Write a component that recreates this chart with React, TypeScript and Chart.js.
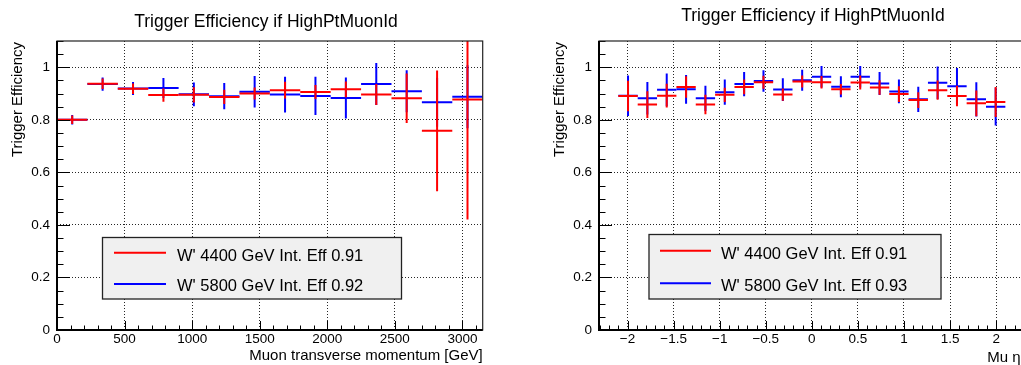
import React, { useEffect, useRef } from 'react';
import { Chart, registerables } from 'chart.js';

Chart.register(...registerables);

const FONT = '"Liberation Sans", Arial, Helvetica, sans-serif';
Chart.defaults.font.family = FONT;

// ---------------- shared text ----------------
const TITLE = 'Trigger Efficiency if HighPtMuonId';
const Y_TITLE = 'Trigger Efficiency';
const RED = '#ff0000';
const BLUE = '#0000ff';

// y axis (efficiency)
const EFF_MIN = 0;
const EFF_MAX = 1.1;
const EFF_TICKS = [0, 0.2, 0.4, 0.6, 0.8, 1];
const EFF_TICK_LABELS = ['0', '0.2', '0.4', '0.6', '0.8', '1'];

// ---------------- panel 1 : muon pT ----------------
const PT_BIN_CENTERS = [112.5, 337.5, 562.5, 787.5, 1012.5, 1237.5, 1462.5, 1687.5, 1912.5, 2137.5, 2362.5, 2587.5, 2812.5, 3037.5];
const PT_BIN_WIDTH = 225;
const PT_EFF_4400 = [0.8, 0.937, 0.918, 0.894, 0.895, 0.887, 0.9, 0.913, 0.906, 0.916, 0.896, 0.882, 0.758, 0.877];
const PT_ERR_4400 = [0.016, 0.02, 0.02, 0.025, 0.029, 0.027, 0.023, 0.032, 0.027, 0.03, 0.04, 0.094, 0.23, 0.456];
const PT_EFF_5800 = [0.8, 0.936, 0.919, 0.921, 0.897, 0.89, 0.907, 0.896, 0.891, 0.883, 0.936, 0.909, 0.867, 0.888];
const PT_ERR_5800 = [0.018, 0.025, 0.025, 0.038, 0.045, 0.05, 0.06, 0.068, 0.073, 0.078, 0.08, 0.08, 0.093, 0.12];
const PT_MIN = 0;
const PT_MAX = 3150;
const PT_TICKS = [0, 500, 1000, 1500, 2000, 2500, 3000];
const PT_TICK_LABELS = ['0', '500', '1000', '1500', '2000', '2500', '3000'];
const PT_X_TITLE = 'Muon transverse momentum [GeV]';
const PT_LEGEND = ["W' 4400 GeV Int. Eff 0.91", "W' 5800 GeV Int. Eff 0.92"];

// ---------------- panel 2 : muon eta ----------------
const ETA_BIN_CENTERS = [-1.995, -1.785, -1.575, -1.365, -1.155, -0.945, -0.735, -0.525, -0.315, -0.105, 0.105, 0.315, 0.525, 0.735, 0.945, 1.155, 1.365, 1.575, 1.785, 1.995];
const ETA_BIN_WIDTH = 0.21;
const ETA_EFF_4400 = [0.891, 0.858, 0.892, 0.925, 0.858, 0.895, 0.925, 0.943, 0.896, 0.946, 0.943, 0.916, 0.942, 0.923, 0.898, 0.875, 0.913, 0.891, 0.863, 0.868];
const ETA_ERR_4400 = [0.058, 0.051, 0.045, 0.041, 0.037, 0.027, 0.028, 0.025, 0.023, 0.023, 0.024, 0.02, 0.027, 0.028, 0.03, 0.03, 0.037, 0.039, 0.049, 0.057];
const ETA_EFF_5800 = [0.892, 0.882, 0.914, 0.916, 0.882, 0.905, 0.936, 0.948, 0.915, 0.951, 0.964, 0.926, 0.964, 0.938, 0.908, 0.878, 0.941, 0.928, 0.878, 0.85];
const ETA_ERR_5800 = [0.077, 0.062, 0.062, 0.055, 0.048, 0.048, 0.046, 0.041, 0.043, 0.04, 0.041, 0.04, 0.041, 0.044, 0.045, 0.048, 0.062, 0.069, 0.065, 0.072];
const ETA_MIN = -2.31;
const ETA_MAX = 2.31;
const ETA_TICKS = [-2, -1.5, -1, -0.5, 0, 0.5, 1, 1.5, 2];
const ETA_TICK_LABELS = ['\u22122', '\u22121.5', '\u22121', '\u22120.5', '0', '0.5', '1', '1.5', '2'];
const ETA_X_TITLE = 'Mu \u03b7';
const ETA_LEGEND = ["W' 4400 GeV Int. Eff 0.91", "W' 5800 GeV Int. Eff 0.93"];

// ---------------- layout ----------------
const CANVAS_W = 510;
const CANVAS_H = 365;

type Panel = {
  left: number;
  centers: number[];
  binWidth: number;
  red: number[];
  redErr: number[];
  blue: number[];
  blueErr: number[];
  xMin: number;
  xMax: number;
  xTicks: number[];
  xTickLabels: string[];
  xMajor: number;
  xMinor: number;
  xTitle: string;
  xTitleRight: number | null;
  xTitleY: number;
  legend: string[];
  titleX: number;
  titleY: number;
  legendBox: [number, number, number, number];
  legendLineX: [number, number];
  legendLineY: [number, number];
  legendTextX: number;
  legendTextY: [number, number];
};

const PANELS: Panel[] = [
  {
    left: 0,
    centers: PT_BIN_CENTERS,
    binWidth: PT_BIN_WIDTH,
    red: PT_EFF_4400,
    redErr: PT_ERR_4400,
    blue: PT_EFF_5800,
    blueErr: PT_ERR_5800,
    xMin: PT_MIN,
    xMax: PT_MAX,
    xTicks: PT_TICKS,
    xTickLabels: PT_TICK_LABELS,
    xMajor: 500,
    xMinor: 100,
    xTitle: PT_X_TITLE,
    xTitleRight: null,
    xTitleY: 360,
    legend: PT_LEGEND,
    titleX: 266,
    titleY: 27,
    legendBox: [102.5, 237.5, 299, 61.5],
    legendLineX: [114, 166],
    legendLineY: [252.7, 284],
    legendTextX: 177,
    legendTextY: [260.5, 291],
  },
  {
    left: 542,
    centers: ETA_BIN_CENTERS,
    binWidth: ETA_BIN_WIDTH,
    red: ETA_EFF_4400,
    redErr: ETA_ERR_4400,
    blue: ETA_EFF_5800,
    blueErr: ETA_ERR_5800,
    xMin: ETA_MIN,
    xMax: ETA_MAX,
    xTicks: ETA_TICKS,
    xTickLabels: ETA_TICK_LABELS,
    xMajor: 0.5,
    xMinor: 0.1,
    xTitle: ETA_X_TITLE,
    xTitleRight: 478.5,
    xTitleY: 362,
    legend: ETA_LEGEND,
    titleX: 271,
    titleY: 21,
    legendBox: [107, 234.5, 292, 64.5],
    legendLineX: [118, 169],
    legendLineY: [250.7, 283.3],
    legendTextX: 179,
    legendTextY: [258.5, 290.5],
  },
];

function errorDatasets(label: string, centers: number[], vals: number[], errs: number[], binWidth: number, color: string) {
  const pts = centers.map((c, i) => ({ x: c, y: vals[i] }));
  const base = {
    label,
    data: pts,
    pointStyle: 'line',
    pointBorderColor: color,
    pointBackgroundColor: color,
    pointBorderWidth: 2,
    pointHoverBorderWidth: 2,
    showLine: false,
    clip: 0,
  };
  return [
    {
      ...base,
      pointRadius: (ctx: any) => {
        const s = ctx.chart.scales.x;
        if (!s) return 0;
        return Math.abs(s.getPixelForValue(binWidth) - s.getPixelForValue(0)) / 2;
      },
      pointRotation: 0,
    },
    {
      ...base,
      pointRadius: (ctx: any) => {
        const s = ctx.chart.scales.y;
        if (!s || ctx.dataIndex === undefined) return 0;
        return Math.abs(s.getPixelForValue(errs[ctx.dataIndex]) - s.getPixelForValue(0));
      },
      pointRotation: 90,
    },
  ];
}

function stepValues(min: number, max: number, step: number) {
  const out: number[] = [];
  const n0 = Math.ceil(min / step - 1e-9);
  const n1 = Math.floor(max / step + 1e-9);
  for (let n = n0; n <= n1; n++) out.push(n * step);
  return out;
}

function isMultiple(v: number, step: number) {
  const r = v / step;
  return Math.abs(r - Math.round(r)) < 1e-6;
}

function makePlugin(p: Panel) {
  return {
    id: 'rootStyle',
    afterDatasetsDraw(chart: any) {
      const ctx = chart.ctx as CanvasRenderingContext2D;
      const { left, right, top, bottom } = chart.chartArea;
      const xs = chart.scales.x;
      const ys = chart.scales.y;
      ctx.save();
      ctx.strokeStyle = '#000';
      ctx.lineWidth = 1;
      ctx.beginPath();
      for (const v of stepValues(p.xMin, p.xMax, p.xMinor)) {
        const px = Math.round(xs.getPixelForValue(v)) + 0.5;
        const len = isMultiple(v, p.xMajor) ? 9 : 4.5;
        ctx.moveTo(px, bottom);
        ctx.lineTo(px, bottom - len);
      }
      for (const v of stepValues(EFF_MIN, EFF_MAX, 0.05)) {
        const py = Math.round(ys.getPixelForValue(v)) + 0.5;
        const len = isMultiple(v, 0.2) ? 13 : 6.5;
        ctx.moveTo(left, py);
        ctx.lineTo(left + len, py);
      }
      ctx.stroke();
      ctx.strokeStyle = '#222';
      ctx.lineWidth = 1.2;
      ctx.strokeRect(left, top, right - left, bottom - top);
      ctx.strokeStyle = '#000';
      ctx.lineWidth = 2;
      ctx.beginPath();
      ctx.moveTo(left, top);
      ctx.lineTo(left, bottom);
      ctx.lineTo(right, bottom);
      ctx.stroke();
      ctx.restore();
    },
    afterDraw(chart: any) {
      const ctx = chart.ctx as CanvasRenderingContext2D;
      const { right } = chart.chartArea;
      ctx.save();
      ctx.fillStyle = '#000';
      // title
      ctx.font = `17.5px ${FONT}`;
      ctx.textAlign = 'center';
      ctx.textBaseline = 'alphabetic';
      ctx.fillText(TITLE, p.titleX, p.titleY);
      // x title
      ctx.font = `15px ${FONT}`;
      ctx.textAlign = 'right';
      ctx.fillText(p.xTitle, p.xTitleRight ?? right, p.xTitleY);
      // y title
      ctx.save();
      ctx.translate(22, 42);
      ctx.rotate(-Math.PI / 2);
      ctx.textAlign = 'right';
      ctx.fillText(Y_TITLE, 0, 0);
      ctx.restore();
      // legend
      const [bx, by, bw, bh] = p.legendBox;
      ctx.fillStyle = '#f0f0f0';
      ctx.fillRect(bx, by, bw, bh);
      ctx.strokeStyle = '#222';
      ctx.lineWidth = 1.3;
      ctx.strokeRect(bx, by, bw, bh);
      const colors = [RED, BLUE];
      ctx.font = `16.5px ${FONT}`;
      ctx.textAlign = 'left';
      for (let i = 0; i < 2; i++) {
        ctx.strokeStyle = colors[i];
        ctx.lineWidth = 2;
        ctx.beginPath();
        ctx.moveTo(p.legendLineX[0], p.legendLineY[i]);
        ctx.lineTo(p.legendLineX[1], p.legendLineY[i]);
        ctx.stroke();
        ctx.fillStyle = '#000';
        ctx.fillText(p.legend[i], p.legendTextX, p.legendTextY[i]);
      }
      ctx.restore();
    },
  };
}

function PanelChart({ p }: { p: Panel }) {
  const ref = useRef<HTMLCanvasElement | null>(null);
  useEffect(() => {
    if (!ref.current) return;
    const datasets = [
      ...errorDatasets(p.legend[0], p.centers, p.red, p.redErr, p.binWidth, RED),
      ...errorDatasets(p.legend[1], p.centers, p.blue, p.blueErr, p.binWidth, BLUE),
    ];
    const gridCommon = {
      color: 'rgba(0,0,0,0.85)',
      lineWidth: 1,
      drawTicks: false,
    };
    const chart = new Chart(ref.current, {
      type: 'scatter',
      data: { datasets: datasets as any },
      options: {
        animation: false,
        responsive: false,
        devicePixelRatio: 1,
        events: [],
        layout: { padding: { left: 0, right: 27.3, top: 41, bottom: 0 } },
        plugins: {
          legend: { display: false },
          tooltip: { enabled: false },
          title: { display: false },
        },
        scales: {
          x: {
            type: 'linear',
            min: p.xMin,
            max: p.xMax,
            afterBuildTicks: (s: any) => {
              s.ticks = p.xTicks.map((v) => ({ value: v }));
            },
            afterFit: (s: any) => {
              s.height = 35;
            },
            ticks: {
              autoSkip: false,
              maxRotation: 0,
              padding: 1,
              color: '#000',
              font: { size: 13.5, family: FONT },
              callback: (_v: any, i: number) => p.xTickLabels[i],
            },
            grid: gridCommon,
            border: { display: false, dash: [1, 2] },
          },
          y: {
            type: 'linear',
            min: EFF_MIN,
            max: EFF_MAX,
            afterBuildTicks: (s: any) => {
              s.ticks = EFF_TICKS.map((v) => ({ value: v }));
            },
            afterFit: (s: any) => {
              s.width = 57;
            },
            ticks: {
              autoSkip: false,
              padding: 7,
              color: '#000',
              font: { size: 13.5, family: FONT },
              callback: (_v: any, i: number) => EFF_TICK_LABELS[i],
            },
            grid: gridCommon,
            border: { display: false, dash: [1, 2] },
          },
        },
      } as any,
      plugins: [makePlugin(p)],
    });
    return () => chart.destroy();
  }, [p]);
  return (
    <div style={{ position: 'absolute', left: p.left, top: 0, width: CANVAS_W, height: CANVAS_H }}>
      <canvas ref={ref} width={CANVAS_W} height={CANVAS_H} style={{ display: 'block', width: CANVAS_W, height: CANVAS_H }} />
    </div>
  );
}

export default function App() {
  return (
    <div
      style={{
        position: 'fixed',
        left: 0,
        top: 0,
        width: 1021,
        height: 365,
        overflow: 'hidden',
        background: '#fff',
      }}
    >
      {PANELS.map((p, i) => (
        <PanelChart key={i} p={p} />
      ))}
    </div>
  );
}
